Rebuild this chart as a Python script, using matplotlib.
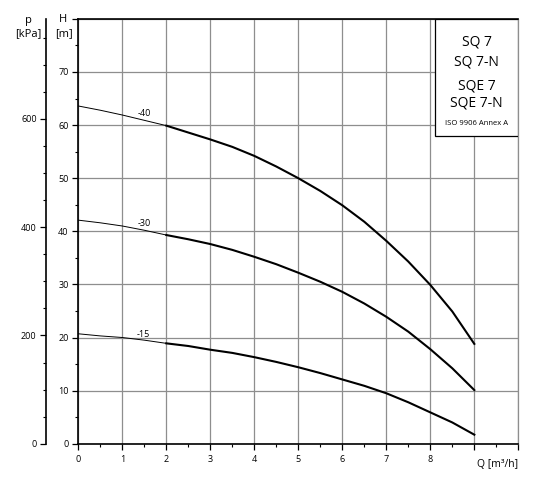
import numpy as np
import matplotlib.pyplot as plt
from matplotlib.ticker import MultipleLocator
from matplotlib.patches import Rectangle

plt.rcParams['font.family'] = ['Open Sans', 'DejaVu Sans']

# flow Q [m3/h] and head H [m]
q = [0, 0.5, 1, 1.5, 2, 2.5, 3, 3.5, 4, 4.5, 5, 5.5, 6, 6.5, 7, 7.5, 8, 8.5, 9]
h_40 = [63.6, 62.8, 61.9, 60.9, 59.9, 58.6, 57.3, 55.9, 54.2, 52.2, 50.0,
        47.6, 44.9, 41.8, 38.2, 34.3, 29.9, 24.9, 18.8]
h_30 = [42.1, 41.6, 41.0, 40.2, 39.3, 38.5, 37.6, 36.5, 35.2, 33.8, 32.2,
        30.5, 28.6, 26.4, 23.9, 21.1, 17.8, 14.2, 10.1]
h_15 = [20.7, 20.3, 20.0, 19.5, 18.9, 18.4, 17.7, 17.1, 16.3, 15.4, 14.4,
        13.3, 12.1, 10.9, 9.5, 7.8, 5.9, 4.0, 1.7]
curve_names = ['-40', '-30', '-15']
label_pos = [(1.49, 62.2), (1.49, 41.5), (1.48, 20.6)]
q_thick_from = 2

pump_names = ['SQ 7', 'SQ 7-N', 'SQE 7', 'SQE 7-N']
norm_text = 'ISO 9906 Annex A'

fig = plt.figure(figsize=(5.37, 4.87), dpi=100)
ax = fig.add_axes([0.1458, 0.0889, 0.8194, 0.8723])

ax.set_xlim(0, 10)
ax.set_ylim(0, 80)
ax.set_xticks(range(11))
ax.set_xticklabels([str(i) for i in range(9)] + ['', ''])
ax.set_yticks(range(0, 81, 10))
ax.set_yticklabels([str(i) for i in range(0, 71, 10)] + [''])
ax.xaxis.set_minor_locator(MultipleLocator(0.5))
ax.yaxis.set_minor_locator(MultipleLocator(5))
ax.grid(which='major', color='#8e8e8e', lw=0.9)
ax.set_axisbelow(True)
ax.tick_params(which='major', direction='out', length=4, width=0.9, labelsize=6.5)
ax.tick_params(which='minor', direction='out', length=2, width=0.8)
ax.tick_params(axis='x', pad=4)
ax.tick_params(axis='y', pad=3)
for s in ['left', 'bottom', 'top']:
    ax.spines[s].set_linewidth(1.2)
ax.spines['right'].set_color('#8e8e8e')
ax.spines['right'].set_linewidth(0.9)

q_arr = np.array(q)
thin = q_arr <= q_thick_from
thick = q_arr >= q_thick_from
for h, name, pos in zip([h_40, h_30, h_15], curve_names, label_pos):
    h = np.array(h)
    ax.plot(q_arr[thin], h[thin], color='black', lw=0.7, zorder=2)
    ax.plot(q_arr[thick], h[thick], color='black', lw=1.5, zorder=2,
            solid_joinstyle='round')
    ax.text(pos[0], pos[1], name, fontsize=6.5, ha='center', va='center')

# pressure axis
ax2 = ax.twinx()
ax2.set_ylim(0, 80 * 9.81)
ax2.yaxis.set_ticks_position('left')
ax2.spines['left'].set_position(('outward', 23))
ax2.spines['left'].set_linewidth(1.2)
for s in ['right', 'top', 'bottom']:
    ax2.spines[s].set_visible(False)
ax2.yaxis.set_major_locator(MultipleLocator(200))
ax2.yaxis.set_minor_locator(MultipleLocator(50))
ax2.tick_params(which='major', direction='out', length=4, width=0.9, labelsize=6.5, pad=3)
ax2.tick_params(which='minor', direction='out', length=2, width=0.8)

# axis titles
fig.text(63.5 / 537, 1 - 20 / 487, 'H', fontsize=8, ha='center', va='center')
fig.text(63.5 / 537, 1 - 34 / 487, '[m]', fontsize=8, ha='center', va='center')
fig.text(28.3 / 537, 1 - 21 / 487, 'p', fontsize=8, ha='center', va='center')
fig.text(28.3 / 537, 1 - 33.5 / 487, '[kPa]', fontsize=8, ha='center', va='center')
ax.text(1.0, -0.035, 'Q [m³/h]', transform=ax.transAxes, fontsize=7.5,
        ha='right', va='top')

# info box
box = Rectangle((0.8107, 0.7243), 0.1893, 0.2757, transform=ax.transAxes,
                facecolor='white', edgecolor='black', lw=0.9, zorder=5)
ax.add_patch(box)
for name, y in zip(pump_names, [0.946, 0.899, 0.842, 0.803]):
    ax.text(0.9055, y, name, transform=ax.transAxes, fontsize=10,
            ha='center', va='center', zorder=6)
ax.text(0.9055, 0.753, norm_text, transform=ax.transAxes, fontsize=5.5,
        ha='center', va='center', zorder=6)

fig.savefig('out.png', dpi=100)
